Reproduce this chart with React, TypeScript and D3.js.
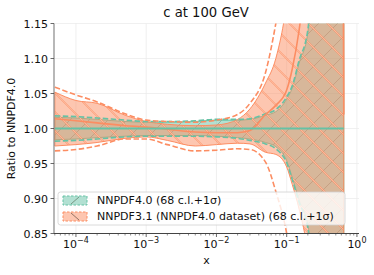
import React from 'react'
import * as d3 from 'd3'

// x grid shared by all curves
const xGrid = [5e-5, 1e-4, 2e-4, 5e-4, 1e-3, 2e-3, 5e-3, 1e-2, 2e-2, 3e-2, 5e-2, 7e-2, 0.1, 0.12, 0.15, 0.2, 0.3, 0.5, 0.6, 0.65]

// NNPDF4.0 (reference, ratio = 1)
const n40Central = [1, 1, 1, 1, 1, 1, 1, 1, 1, 1, 1, 1, 1, 1, 1, 1, 1, 1, 1, 1]
const n40Upper68 = [1.016, 1.015, 1.013, 1.010, 1.009, 1.009, 1.010, 1.012, 1.012, 1.013, 1.019, 1.024, 1.042, 1.058, 1.093, 1.137, 1.35, 1.7, 1.85, 1.9]
const n40Lower68 = [0.984, 0.985, 0.987, 0.989, 0.990, 0.990, 0.990, 0.989, 0.987, 0.985, 0.980, 0.974, 0.954, 0.930, 0.898, 0.862, 0.7, 0.4, 0.3, 0.2]
const n40Upper1s = [1.018, 1.017, 1.015, 1.012, 1.010, 1.010, 1.011, 1.013, 1.013, 1.014, 1.021, 1.027, 1.045, 1.061, 1.097, 1.141, 1.36, 1.72, 1.87, 1.95]
const n40Lower1s = [0.982, 0.983, 0.985, 0.988, 0.989, 0.989, 0.989, 0.988, 0.986, 0.983, 0.978, 0.971, 0.951, 0.927, 0.895, 0.858, 0.69, 0.38, 0.28, 0.15]

// NNPDF3.1 (NNPDF4.0 dataset)
const n31Central = [1.014, 1.011, 1.008, 1.004, 1.002, 0.999, 0.995, 0.994, 0.994, 0.997, 1.020, 1.033, 1.055, 1.085, 1.14, 1.25, 1.5, 1.8, 1.9, 1.02]
const n31Upper68 = [1.052, 1.040, 1.036, 1.019, 1.010, 1.006, 1.004, 1.005, 1.013, 1.028, 1.065, 1.10, 1.18, 1.25, 1.35, 1.5, 1.8, 2.2, 2.3, 2.3]
const n31Lower68 = [0.975, 0.977, 0.980, 0.986, 0.988, 0.983, 0.975, 0.977, 0.979, 0.978, 0.966, 0.963, 0.945, 0.92, 0.885, 0.82, 0.6, 0.3, 0.2, 0.2]
const n31Upper1s = [1.059, 1.048, 1.038, 1.021, 1.012, 1.010, 1.009, 1.012, 1.020, 1.036, 1.080, 1.150, 1.25, 1.3, 1.4, 1.6, 1.9, 2.3, 2.4, 2.4]
const n31Lower1s = [0.968, 0.970, 0.975, 0.985, 0.985, 0.977, 0.968, 0.969, 0.971, 0.970, 0.952, 0.91, 0.85, 0.8, 0.7, 0.6, 0.4, 0.2, 0.1, 0.1]

const yTicks = [0.85, 0.90, 0.95, 1.00, 1.05, 1.10, 1.15]
const xTicks = [1e-4, 1e-3, 1e-2, 1e-1, 1]
const xTickExp = ['−4', '−3', '−2', '−1', '0']

const legendLabels = ['NNPDF4.0 (68 c.l.+1σ)', 'NNPDF3.1 (NNPDF4.0 dataset) (68 c.l.+1σ)']

const green = '#66c2a5'
const orange = '#fc8d62'

const W = 374
const H = 275
const left = 54, right = 359, top = 23.5, bottom = 233.5

export default function App() {
  const x = d3.scaleLog().domain([4.87e-5, 1.07]).range([left, right])
  const y = d3.scaleLinear().domain([0.85, 1.15]).range([bottom, top])

  const band = (lo: number[], hi: number[]) =>
    d3.area<number>()
      .x((d, i) => x(xGrid[i]))
      .y0((d, i) => y(lo[i]))
      .y1((d, i) => y(hi[i]))
      .curve(d3.curveMonotoneX)(xGrid)!

  const curve = (vals: number[]) =>
    d3.line<number>()
      .x((d, i) => x(xGrid[i]))
      .y((d, i) => y(vals[i]))
      .curve(d3.curveMonotoneX)(xGrid)!

  // minor log ticks
  const minor: number[] = []
  for (let e = -5; e <= 0; e++) {
    for (let m = 2; m <= 9; m++) {
      const v = m * Math.pow(10, e)
      if (v >= 4.87e-5 && v <= 1.07) minor.push(v)
    }
  }

  const font = 'DejaVu Sans, sans-serif'
  const greenBand = band(n40Lower68, n40Upper68)
  const orangeBand = band(n31Lower68, n31Upper68)
  const hs = 19 // hatch spacing

  return (
    <svg width={W} height={H} style={{ position: 'absolute', left: 0, top: 0 }} fontFamily={font}>
      <defs>
        <clipPath id="plot">
          <rect x={left} y={top} width={right - left} height={bottom - top} />
        </clipPath>
        <pattern id="hatchG" patternUnits="userSpaceOnUse" width={hs} height={hs}>
          <path d={`M-1,${hs + 1} L${hs + 1},-1 M-4,4 L4,-4 M${hs - 4},${hs + 4} L${hs + 4},${hs - 4}`} stroke="#7a9585" strokeWidth={0.6} />
        </pattern>
        <pattern id="hatchO" patternUnits="userSpaceOnUse" width={hs} height={hs}>
          <path d={`M-1,-1 L${hs + 1},${hs + 1} M-4,${hs - 4} L4,${hs + 4} M${hs - 4},-4 L${hs + 4},4`} stroke={orange} strokeWidth={1.4} />
          <path d={`M-1,-1 L${hs + 1},${hs + 1} M-4,${hs - 4} L4,${hs + 4} M${hs - 4},-4 L${hs + 4},4`} stroke="#ffe0d2" strokeWidth={0.5} />
        </pattern>
      </defs>
      <rect x={0} y={0} width={W} height={H} fill="#fff" />

      {/* grid */}
      <g stroke="#ececec" strokeWidth={0.8}>
        {yTicks.map(t => <line key={'gy' + t} x1={left} x2={right} y1={y(t)} y2={y(t)} />)}
        {xTicks.map(t => <line key={'gx' + t} x1={x(t)} x2={x(t)} y1={top} y2={bottom} />)}
      </g>

      <g clipPath="url(#plot)">
        {/* NNPDF4.0 band */}
        <path d={greenBand} fill={green} fillOpacity={0.5} stroke="none" />
        <path d={greenBand} fill="url(#hatchG)" stroke={green} strokeWidth={1} />
        {/* NNPDF3.1 band */}
        <path d={orangeBand} fill={orange} fillOpacity={0.5} stroke="none" />
        <path d={orangeBand} fill="url(#hatchO)" stroke={orange} strokeWidth={1} />

        {/* 1 sigma dashed */}
        <g fill="none" strokeWidth={1.6} strokeDasharray="5.5,2.5">
          <path d={curve(n40Upper1s)} stroke={green} />
          <path d={curve(n40Lower1s)} stroke={green} />
          <path d={curve(n31Upper1s)} stroke={orange} />
          <path d={curve(n31Lower1s)} stroke={orange} />
        </g>

        {/* central values */}
        <path d={curve(n31Central)} fill="none" stroke={orange} strokeWidth={1.6} />
        <path d={curve(n40Central)} fill="none" stroke={green} strokeWidth={1.8} />
      </g>

      {/* spines */}
      <line x1={left} x2={left} y1={top} y2={bottom} stroke="#888" strokeWidth={1.2} />
      <line x1={left} x2={right} y1={bottom} y2={bottom} stroke="#444" strokeWidth={1} />

      {/* y axis */}
      {yTicks.map(t => (
        <g key={'yt' + t}>
          <line x1={left - 3.5} x2={left} y1={y(t)} y2={y(t)} stroke="#444" strokeWidth={0.8} />
          <text x={left - 6} y={y(t) + 4} fontSize={11} textAnchor="end" fill="#111">{t.toFixed(2)}</text>
        </g>
      ))}

      {/* x axis */}
      {minor.map(t => (
        <line key={'mx' + t} x1={x(t)} x2={x(t)} y1={bottom} y2={bottom + 2} stroke="#444" strokeWidth={0.6} />
      ))}
      {xTicks.map((t, i) => (
        <g key={'xt' + t}>
          <line x1={x(t)} x2={x(t)} y1={bottom} y2={bottom + 3.5} stroke="#444" strokeWidth={0.8} />
          <text x={x(t)} y={bottom + 14} fontSize={11} textAnchor="middle" fill="#111">
            <tspan>10</tspan>
            <tspan fontSize={8} dy={-5}>{xTickExp[i]}</tspan>
          </text>
        </g>
      ))}

      <text x={(left + right) / 2} y={263.5} fontSize={11} textAnchor="middle" fill="#111">x</text>
      <text transform={`translate(15,${(top + bottom) / 2}) rotate(-90)`} fontSize={11} textAnchor="middle" fill="#111">Ratio to NNPDF4.0</text>
      <text x={206} y={17} fontSize={13.2} textAnchor="middle" fill="#111">c at 100 GeV</text>

      {/* legend */}
      <g>
        <rect x={58} y={192} width={287} height={33} rx={2.5} fill="#fff" fillOpacity={0.8} stroke="#d0d0d0" strokeWidth={0.8} />
        <rect x={63} y={196} width={24} height={9} fill={green} fillOpacity={0.5} stroke={green} strokeDasharray="2.5,1.5" strokeWidth={1} />
        <line x1={71} x2={79} y1={204} y2={197} stroke="#6f8f7c" strokeWidth={0.9} />
        <text x={97} y={204} fontSize={11} fill="#111">{legendLabels[0]}</text>
        <rect x={63} y={212} width={24} height={9} fill={orange} fillOpacity={0.5} stroke={orange} strokeDasharray="2.5,1.5" strokeWidth={1} />
        <line x1={71} x2={79} y1={213} y2={220} stroke="#8a6a5a" strokeWidth={0.9} />
        <text x={97} y={220} fontSize={11} fill="#111">{legendLabels[1]}</text>
      </g>
    </svg>
  )
}
